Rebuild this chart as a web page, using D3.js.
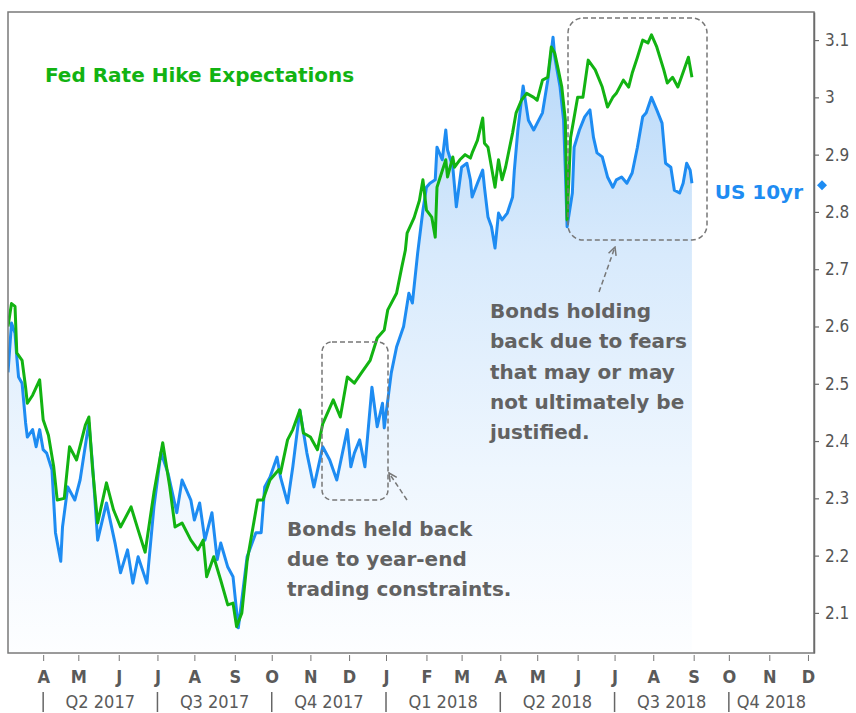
<!DOCTYPE html>
<html>
<head>
<meta charset="utf-8">
<script src="https://cdn.jsdelivr.net/npm/d3@7"></script>
<style>
    body { margin: 0; background: #fff; }
    svg { display: block; font-family: "DejaVu Sans Condensed", "DejaVu Sans", sans-serif; }
</style>
</head>
<body>
<svg id="chart" width="856" height="713" viewBox="0 0 856 713"></svg>
<script>
// Fed rate hike expectations (green line)
const fedExpect = [
    ["2017-03-06",2.60],["2017-03-08",2.64],["2017-03-10",2.635],["2017-03-13",2.554],["2017-03-16",2.541],
    ["2017-03-20",2.494],["2017-03-21",2.466],["2017-03-24",2.48],["2017-03-30",2.507],["2017-04-03",2.437],["2017-04-06",2.41],
    ["2017-04-11",2.355],["2017-04-13",2.297],["2017-04-19",2.30],["2017-04-24",2.39],["2017-04-28",2.367],
    ["2017-05-05",2.428],["2017-05-09",2.442],["2017-05-11",2.355],["2017-05-16",2.257],["2017-05-23",2.327],
    ["2017-05-29",2.28],["2017-06-02",2.25],["2017-06-12",2.285],["2017-06-16",2.245],["2017-06-22",2.206],
    ["2017-06-29",2.31],["2017-07-06",2.397],["2017-07-12",2.32],["2017-07-17",2.25],["2017-07-21",2.257],
    ["2017-07-28",2.227],["2017-08-03",2.21],["2017-08-08",2.227],["2017-08-10",2.163],["2017-08-16",2.198],
    ["2017-08-22",2.157],["2017-08-28",2.114],["2017-08-31",2.117],["2017-09-04",2.076],["2017-09-07",2.10],
    ["2017-09-12",2.19],["2017-09-20",2.297],["2017-09-25",2.297],["2017-09-29",2.332],["2017-10-06",2.35],
    ["2017-10-09",2.344],["2017-10-13",2.402],["2017-10-18",2.42],["2017-10-24",2.454],["2017-10-26",2.414],
    ["2017-11-01",2.407],["2017-11-07",2.385],["2017-11-10",2.43],["2017-11-20",2.472],["2017-11-24",2.442],
    ["2017-11-30",2.512],["2017-12-06",2.501],["2017-12-12",2.519],["2017-12-19",2.541],["2017-12-25",2.58],
    ["2017-12-29",2.594],["2018-01-02",2.629],["2018-01-09",2.658],["2018-01-12",2.704],["2018-01-16",2.733],
    ["2018-01-17",2.763],["2018-01-23",2.79],["2018-01-26",2.82],["2018-01-30",2.856],["2018-02-01",2.803],
    ["2018-02-06",2.791],["2018-02-08",2.756],["2018-02-09",2.843],["2018-02-16",2.891],["2018-02-19",2.861],
    ["2018-02-22",2.896],["2018-02-23",2.878],["2018-02-28",2.891],["2018-03-05",2.9],["2018-03-08",2.894],
    ["2018-03-09",2.903],["2018-03-14",2.925],["2018-03-19",2.964],["2018-03-20",2.92],["2018-03-22",2.913],
    ["2018-03-26",2.878],["2018-03-28",2.843],["2018-03-30",2.891],["2018-04-03",2.856],["2018-04-05",2.878],
    ["2018-04-09",2.908],["2018-04-11",2.938],["2018-04-13",2.973],["2018-04-18",2.995],["2018-04-23",3.007],
    ["2018-04-27",3.0],["2018-05-01",2.995],
    ["2018-05-04",3.03],["2018-05-09",3.035],["2018-05-11",3.088],["2018-05-15",3.077],["2018-05-17",3.048],
    ["2018-05-21",3.018],["2018-05-23",2.96],["2018-05-24",2.786],["2018-05-28",2.93],["2018-06-01",3.0],
    ["2018-06-06",3.0],["2018-06-11",3.065],["2018-06-15",3.048],["2018-06-21",3.018],["2018-06-26",2.983],
    ["2018-06-29",3.0],["2018-07-03",3.007],["2018-07-09",3.03],["2018-07-12",3.018],["2018-07-16",3.042],
    ["2018-07-19",3.07],["2018-07-24",3.1],["2018-07-27",3.095],["2018-07-31",3.109],["2018-08-03",3.088],
    ["2018-08-09",3.048],["2018-08-13",3.025],["2018-08-16",3.035],["2018-08-21",3.018],["2018-08-23",3.035],
    ["2018-08-29",3.07],["2018-08-31",3.035]
];

// US 10yr yield (blue line + area)
const us10yr = [
    ["2017-03-06",2.52],["2017-03-08",2.606],["2017-03-10",2.588],["2017-03-13",2.547],["2017-03-14",2.512],
    ["2017-03-16",2.501],["2017-03-20",2.432],["2017-03-21",2.407],["2017-03-24",2.42],["2017-03-28",2.39],
    ["2017-03-30",2.42],["2017-04-03",2.385],["2017-04-05",2.379],["2017-04-10",2.35],["2017-04-12",2.24],
    ["2017-04-17",2.19],["2017-04-18",2.25],
    ["2017-04-21",2.32],["2017-04-27",2.297],["2017-05-02",2.332],["2017-05-04",2.372],["2017-05-09",2.432],
    ["2017-05-11",2.362],["2017-05-16",2.227],["2017-05-23",2.292],["2017-05-30",2.22],["2017-06-02",2.17],
    ["2017-06-08",2.21],["2017-06-13",2.152],["2017-06-16",2.198],["2017-06-23",2.152],["2017-06-29",2.285],
    ["2017-07-05",2.38],["2017-07-11",2.344],["2017-07-18",2.275],["2017-07-21",2.332],["2017-07-28",2.297],
    ["2017-08-01",2.262],["2017-08-04",2.292],["2017-08-09",2.227],["2017-08-15",2.275],["2017-08-18",2.193],
    ["2017-08-22",2.222],["2017-08-28",2.18],["2017-08-31",2.163],["2017-09-05",2.074],["2017-09-07",2.123],
    ["2017-09-12",2.198],["2017-09-19",2.24],["2017-09-22",2.24],["2017-09-26",2.32],["2017-09-29",2.337],
    ["2017-10-05",2.372],["2017-10-09",2.337],["2017-10-13",2.292],["2017-10-18",2.355],["2017-10-24",2.454],
    ["2017-10-30",2.379],["2017-11-03",2.32],["2017-11-10",2.39],["2017-11-16",2.367],["2017-11-22",2.332],
    ["2017-11-30",2.42],["2017-12-04",2.355],["2017-12-06",2.379],["2017-12-11",2.402],["2017-12-14",2.355],
    ["2017-12-20",2.494],["2017-12-25",2.425],["2017-12-28",2.466],["2017-12-29",2.423],["2018-01-04",2.519],
    ["2018-01-09",2.564],["2018-01-15",2.6],["2018-01-18",2.658],["2018-01-22",2.641],["2018-01-25",2.728],
    ["2018-01-30",2.803],["2018-02-01",2.843],["2018-02-05",2.85],["2018-02-08",2.856],["2018-02-09",2.913],
    ["2018-02-14",2.891],["2018-02-16",2.943],["2018-02-19",2.908],["2018-02-22",2.878],["2018-02-26",2.809],
    ["2018-03-01",2.878],["2018-03-06",2.885],["2018-03-08",2.856],["2018-03-09",2.826],["2018-03-14",2.85],
    ["2018-03-19",2.873],["2018-03-20",2.843],["2018-03-22",2.791],["2018-03-26",2.774],["2018-03-28",2.737],
    ["2018-03-30",2.798],["2018-04-03",2.786],["2018-04-06",2.798],["2018-04-11",2.826],["2018-04-12",2.873],
    ["2018-04-16",2.943],["2018-04-19",3.02],["2018-04-24",2.96],["2018-04-27",2.943],["2018-05-04",2.973],
    ["2018-05-09",3.03],["2018-05-14",3.105],
    ["2018-05-15",3.07],["2018-05-18",3.018],["2018-05-22",2.96],["2018-05-23",2.873],["2018-05-24",2.774],
    ["2018-05-29",2.833],["2018-05-30",2.913],["2018-06-04",2.943],["2018-06-07",2.966],["2018-06-12",2.978],
    ["2018-06-14",2.93],["2018-06-18",2.903],["2018-06-21",2.896],["2018-06-26",2.861],["2018-06-29",2.843],
    ["2018-07-03",2.856],["2018-07-06",2.861],["2018-07-11",2.85],["2018-07-16",2.868],["2018-07-19",2.913],
    ["2018-07-24",2.966],["2018-07-26",2.973],["2018-07-31",3.0],["2018-08-03",2.978],["2018-08-08",2.955],
    ["2018-08-10",2.885],["2018-08-15",2.878],["2018-08-17",2.838],["2018-08-22",2.833],["2018-08-24",2.85],
    ["2018-08-28",2.885],["2018-08-30",2.873],["2018-08-31",2.85]
];

const yTicks = [2.1, 2.2, 2.3, 2.4, 2.5, 2.6, 2.7, 2.8, 2.9, 3.0, 3.1];
const yDomain = [2.03, 3.149];
const axisStart = "2017-03-06";
const axisEnd = "2018-12-07";
const monthStart = "2017-04-01";
const monthEnd = "2018-12-02";
const quarterStarts = ["2017-04-01", "2017-07-01", "2017-10-01", "2018-01-01", "2018-04-01", "2018-07-01", "2018-10-01"];
const quarterLabels = ["Q2 2017", "Q3 2017", "Q4 2017", "Q1 2018", "Q2 2018", "Q3 2018", "Q4 2018"];

const annotHeld = ["Bonds held back", "due to year-end", "trading constraints."];
const annotHolding = ["Bonds holding", "back due to fears", "that may or may", "not ultimately be", "justified."];

const GREEN = "#12b312";
const BLUE = "#1e8cf2";
const GREY = "#626262";
const WIDE = "'DejaVu Sans', sans-serif";

const svg = d3.select("#chart");
const parse = d3.timeParse("%Y-%m-%d");
const base = parse(axisStart);

// trading-day position (weekends collapsed)
function tradeIdx(date) {
    const days = d3.timeDay.count(base, date);
    return Math.floor(days / 7) * 5 + Math.min(days % 7, 5);
}

const plot = { left: 8, right: 814, top: 12, bottom: 653 };

const x = d3.scaleLinear()
    .domain([0, tradeIdx(parse(axisEnd))])
    .range([plot.left, plot.right + 1]);
const y = d3.scaleLinear()
    .domain(yDomain)
    .range([plot.bottom, plot.top]);

const fed = fedExpect.map(d => ({ date: parse(d[0]), v: d[1] }));
const tsy = us10yr.map(d => ({ date: parse(d[0]), v: d[1] }));

const defs = svg.append("defs");
const grad = defs.append("linearGradient")
    .attr("id", "fillGrad")
    .attr("gradientUnits", "userSpaceOnUse")
    .attr("x1", 0).attr("x2", 0)
    .attr("y1", y(3.1)).attr("y2", plot.bottom);
grad.append("stop").attr("offset", 0).attr("stop-color", "#b7d8f9");
grad.append("stop").attr("offset", 0.35).attr("stop-color", "#d8eafc");
grad.append("stop").attr("offset", 0.7).attr("stop-color", "#eef6fe");
grad.append("stop").attr("offset", 1).attr("stop-color", "#fdfeff");

defs.append("clipPath").attr("id", "plotClip")
    .append("rect")
    .attr("x", plot.left).attr("y", plot.top)
    .attr("width", plot.right - plot.left).attr("height", plot.bottom - plot.top);

defs.append("marker")
    .attr("id", "arrow")
    .attr("viewBox", "0 0 10 10")
    .attr("refX", 9).attr("refY", 5)
    .attr("markerWidth", 10).attr("markerHeight", 10)
    .attr("markerUnits", "userSpaceOnUse")
    .attr("orient", "auto")
    .append("path")
    .attr("d", "M1,1 L9,5 L1,9")
    .attr("fill", "none")
    .attr("stroke", "#777")
    .attr("stroke-width", 1.5);

const main_group = svg.append("g").attr("clip-path", "url(#plotClip)");

const area = d3.area()
    .x(d => x(tradeIdx(d.date)))
    .y0(plot.bottom)
    .y1(d => y(d.v));

const line = d3.line()
    .x(d => x(tradeIdx(d.date)))
    .y(d => y(d.v));

main_group.append("path")
    .datum(tsy)
    .attr("d", area)
    .attr("fill", "url(#fillGrad)");

main_group.append("path")
    .datum(tsy)
    .attr("d", line)
    .attr("fill", "none")
    .attr("stroke", BLUE)
    .attr("stroke-width", 3)
    .attr("stroke-linejoin", "round");

main_group.append("path")
    .datum(fed)
    .attr("d", line)
    .attr("fill", "none")
    .attr("stroke", GREEN)
    .attr("stroke-width", 3)
    .attr("stroke-linejoin", "round");

// frame
svg.append("rect")
    .attr("x", plot.left).attr("y", plot.top)
    .attr("width", plot.right - plot.left).attr("height", plot.bottom - plot.top)
    .attr("fill", "none")
    .attr("stroke", "#7a7a7a")
    .attr("stroke-width", 1.5);

// right axis
const yAxis = svg.append("g")
    .attr("transform", `translate(${plot.right},0)`)
    .call(d3.axisRight(y)
        .tickValues(yTicks)
        .tickSize(5)
        .tickSizeOuter(0)
        .tickPadding(6)
        .tickFormat(d3.format("~g")));
yAxis.select(".domain").attr("stroke", "#6b6b6b").attr("stroke-width", 1.5);
yAxis.selectAll(".tick line").attr("stroke", "#6b6b6b").attr("stroke-width", 1.2);
yAxis.selectAll("text")
    .attr("fill", "#555")
    .style("font-size", "17px")
    .style("font-family", "'DejaVu Sans Condensed', sans-serif");

// month axis
const months = d3.timeMonth.range(parse(monthStart), parse(monthEnd));
const xAxis = svg.append("g")
    .attr("transform", `translate(0,${plot.bottom + 2})`)
    .call(d3.axisBottom(x)
        .tickValues(months.map(tradeIdx))
        .tickSize(6)
        .tickPadding(9)
        .tickFormat((d, i) => d3.timeFormat("%b")(months[i]).charAt(0)));
xAxis.select(".domain").remove();
xAxis.selectAll(".tick line").attr("stroke", "#777").attr("stroke-width", 1);
xAxis.selectAll("text")
    .attr("fill", "#5a5a5a")
    .style("font-size", "18px")
    .style("font-weight", "bold")
    .style("font-family", "'DejaVu Sans Condensed', sans-serif");

// quarter row
const qPos = quarterStarts.map(d => x(tradeIdx(parse(d))));
const qGroup = svg.append("g");
qPos.forEach((px, i) => {
    qGroup.append("line")
        .attr("x1", px).attr("x2", px)
        .attr("y1", 692).attr("y2", 712)
        .attr("stroke", "#666")
        .attr("stroke-width", 1.5);
    const next = i < qPos.length - 1 ? qPos[i + 1] : plot.right;
    qGroup.append("text")
        .attr("x", (px + next) / 2)
        .attr("y", 708)
        .attr("text-anchor", "middle")
        .attr("fill", "#5a5a5a")
        .style("font-size", "18px")
        .text(quarterLabels[i]);
});

// title
svg.append("text")
    .attr("x", 45)
    .attr("y", 82)
    .attr("fill", GREEN)
    .style("font-family", WIDE)
    .style("font-size", "20px")
    .style("font-weight", "bold")
    .text("Fed Rate Hike Expectations");

// last value marker
const last = tsy[tsy.length - 1];
svg.append("path")
    .attr("d", d3.symbol(d3.symbolSquare, 50))
    .attr("transform", `translate(${plot.right + 8},${y(last.v) + 2}) rotate(45)`)
    .attr("fill", BLUE);
svg.append("text")
    .attr("x", 803)
    .attr("y", y(last.v) + 16)
    .attr("text-anchor", "end")
    .attr("fill", BLUE)
    .style("font-family", WIDE)
    .style("font-size", "20px")
    .style("font-weight", "bold")
    .text("US 10yr");

// annotations
const ann = svg.append("g");
ann.append("rect")
    .attr("x", 322).attr("y", 342)
    .attr("width", 66).attr("height", 158)
    .attr("rx", 10)
    .attr("fill", "none")
    .attr("stroke", "#777")
    .attr("stroke-width", 1.5)
    .attr("stroke-dasharray", "5,3");
ann.append("rect")
    .attr("x", 568).attr("y", 18)
    .attr("width", 139).attr("height", 222)
    .attr("rx", 15)
    .attr("fill", "none")
    .attr("stroke", "#777")
    .attr("stroke-width", 1.5)
    .attr("stroke-dasharray", "5,3");

ann.append("line")
    .attr("x1", 407).attr("y1", 500)
    .attr("x2", 389).attr("y2", 473)
    .attr("stroke", "#777")
    .attr("stroke-width", 1.5)
    .attr("stroke-dasharray", "5,3")
    .attr("marker-end", "url(#arrow)");
ann.append("line")
    .attr("x1", 599).attr("y1", 292)
    .attr("x2", 615).attr("y2", 247)
    .attr("stroke", "#777")
    .attr("stroke-width", 1.5)
    .attr("stroke-dasharray", "5,3")
    .attr("marker-end", "url(#arrow)");

ann.append("text")
    .attr("fill", GREY)
    .style("font-family", WIDE)
    .style("font-size", "20px")
    .style("font-weight", "bold")
    .selectAll("tspan")
    .data(annotHeld)
    .enter()
    .append("tspan")
    .attr("x", 287)
    .attr("y", (d, i) => 536 + i * 30)
    .text(d => d);

ann.append("text")
    .attr("fill", GREY)
    .style("font-family", WIDE)
    .style("font-size", "20px")
    .style("font-weight", "bold")
    .selectAll("tspan")
    .data(annotHolding)
    .enter()
    .append("tspan")
    .attr("x", 490)
    .attr("y", (d, i) => 318 + i * 30.3)
    .text(d => d);
</script>
</body>
</html>
